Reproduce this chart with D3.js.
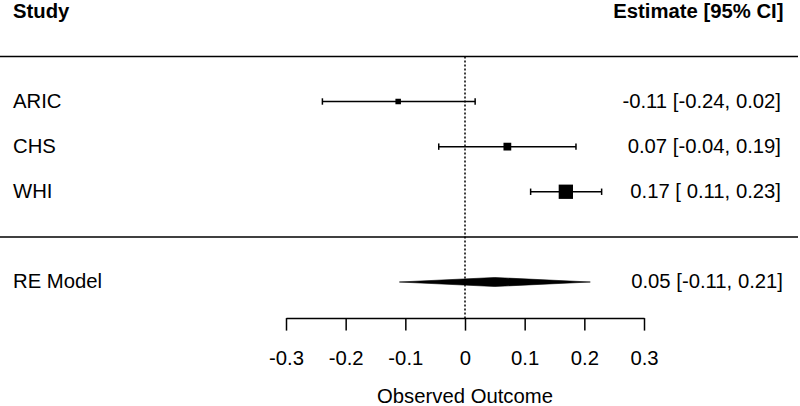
<!DOCTYPE html>
<html>
<head>
<meta charset="utf-8">
<script src="https://cdn.jsdelivr.net/npm/d3@7"></script>
<style>
  html, body { margin: 0; padding: 0; background: #fff; }
  svg text { font-family: "Liberation Sans", Arial, Helvetica, sans-serif; white-space: pre; }
</style>
</head>
<body>
<svg id="chart" width="800" height="406"></svg>
<script>
// ---- data ----
const studies = ["ARIC", "CHS", "WHI"];
const estimates = [-0.112, 0.071, 0.169];
const lowers = [-0.239, -0.044, 0.110];
const uppers = [0.017, 0.186, 0.229];
const weights = [30.9, 32.4, 36.7];
const modelLabel = "RE Model";
const modelEstimate = 0.05;
const modelLower = -0.11;
const modelUpper = 0.21;
const xTicks = [-0.3, -0.2, -0.1, 0, 0.1, 0.2, 0.3];
const xTickLabels = ["-0.3", "-0.2", "-0.1", "0", "0.1", "0.2", "0.3"];
const headerLeft = "Study";
const headerRight = "Estimate [95% CI]";
const xAxisTitle = "Observed Outcome";

// ---- layout ----
const W = 800, H = 406;
const svg = d3.select("#chart");
const x = d3.scaleLinear().domain([-0.3, 0.3]).range([286, 644]);
const yRow = d3.scaleLinear().domain([3, -1]).range([101.5, 282]);
const sizeScale = d3.scaleLinear().domain(d3.extent(weights)).range([5.5, 14.3]);
const fontSize = 20.3;
const lw = 1.5;
const textX = 781;

const rows = studies.map((s, i) => ({
  name: s, est: estimates[i], lo: lowers[i], hi: uppers[i], w: weights[i],
  row: studies.length - i
}));

const fmt = v => v.toFixed(2);
const anyNegLower = lowers.concat([modelLower]).some(v => v < 0);
const padLo = v => (anyNegLower && v >= 0 ? " " : "") + fmt(v);
const annot = (e, l, u) => `${fmt(e)} [${padLo(l)}, ${fmt(u)}]`;

// header
svg.append("text").attr("x", 13).attr("y", yRow(5) + 6.5)
  .attr("font-size", fontSize).attr("font-weight", "bold").text(headerLeft);
svg.append("text").attr("x", 783.5).attr("y", yRow(5) + 6.5)
  .attr("text-anchor", "end").attr("font-size", fontSize).attr("font-weight", "bold").text(headerRight);

// horizontal separators
[studies.length + 1, 0].forEach(r => {
  svg.append("line").attr("x1", 0).attr("x2", 798)
    .attr("y1", yRow(r)).attr("y2", yRow(r))
    .attr("stroke", "#000").attr("stroke-width", lw);
});

// reference line
const axisY = yRow(-1.8);
svg.append("line").attr("x1", x(0)).attr("x2", x(0))
  .attr("y1", yRow(studies.length + 1)).attr("y2", axisY)
  .attr("stroke", "#000").attr("stroke-width", lw).attr("stroke-dasharray", "2,2");

// study rows
const g = svg.append("g");
rows.forEach(d => {
  const y = yRow(d.row);
  g.append("line").attr("x1", x(d.lo)).attr("x2", x(d.hi)).attr("y1", y).attr("y2", y)
    .attr("stroke", "#000").attr("stroke-width", lw);
  [d.lo, d.hi].forEach(v => {
    g.append("line").attr("x1", x(v)).attr("x2", x(v)).attr("y1", y - 3.2).attr("y2", y + 3.2)
      .attr("stroke", "#000").attr("stroke-width", lw);
  });
  const s = sizeScale(d.w);
  g.append("rect").attr("x", x(d.est) - s / 2).attr("y", y - s / 2)
    .attr("width", s).attr("height", s).attr("fill", "#000");
  g.append("text").attr("x", 13).attr("y", y + 6).attr("font-size", fontSize).text(d.name);
  g.append("text").attr("x", textX).attr("y", y + 6).attr("text-anchor", "end")
    .attr("font-size", fontSize).text(annot(d.est, d.lo, d.hi));
});

// model row
const my = yRow(-1);
const hh = 4.5;
svg.append("polygon")
  .attr("points", [[x(modelLower), my], [x(modelEstimate), my - hh], [x(modelUpper), my], [x(modelEstimate), my + hh]]
    .map(p => p.join(",")).join(" "))
  .attr("fill", "#000").attr("stroke", "#000").attr("stroke-width", 0.6);
svg.append("text").attr("x", 13).attr("y", my + 6).attr("font-size", fontSize).text(modelLabel);
svg.append("text").attr("x", 783).attr("y", my + 6).attr("text-anchor", "end")
  .attr("font-size", fontSize).text(annot(modelEstimate, modelLower, modelUpper));

// x axis
const axis = d3.axisBottom(x).tickValues(xTicks)
  .tickFormat((d, i) => xTickLabels[i]).tickSize(12.5).tickSizeOuter(0).tickPadding(0);
const ag = svg.append("g").attr("transform", `translate(0,${axisY})`).call(axis);
ag.select(".domain").attr("stroke", "#000").attr("stroke-width", lw);
ag.selectAll(".tick line").attr("stroke", "#000").attr("stroke-width", lw);
ag.selectAll(".tick text").attr("font-size", fontSize).attr("fill", "#000")
  .attr("font-family", "Liberation Sans, Arial, sans-serif")
  .attr("dy", null).attr("y", 365 - axisY);

svg.append("text").attr("x", x(0)).attr("y", 402.5).attr("text-anchor", "middle")
  .attr("font-size", fontSize).text(xAxisTitle);
</script>
</body>
</html>
